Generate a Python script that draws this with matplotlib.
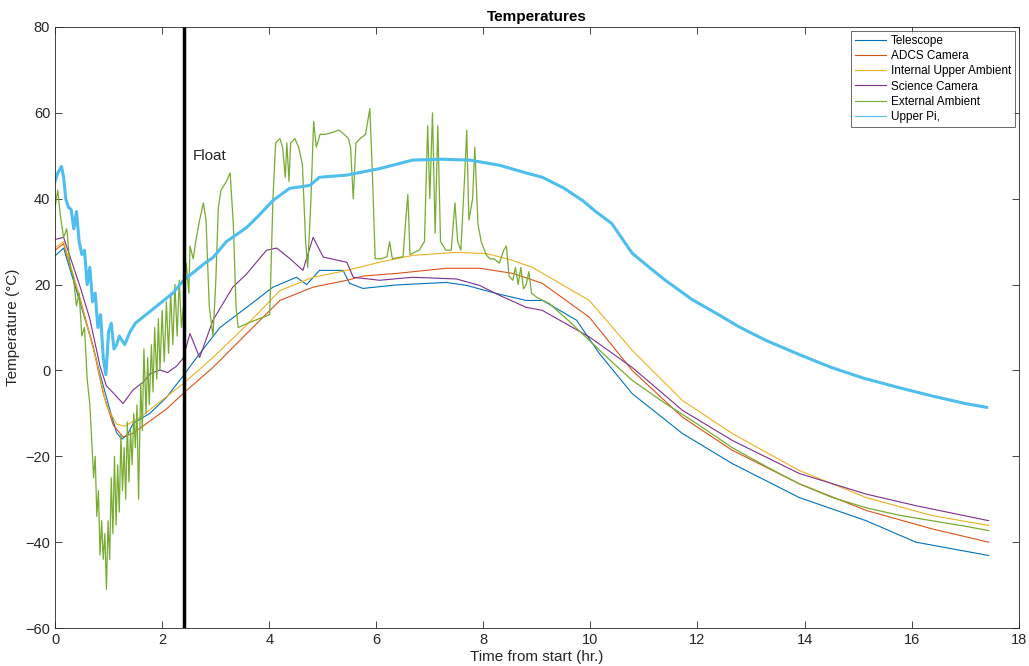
import matplotlib
matplotlib.use("Agg")
import matplotlib.pyplot as plt

plt.rcParams['font.family'] = ['Liberation Sans', 'DejaVu Sans']

# ---------------- data ----------------
tele_x = [0, 0.16, 0.47, 0.71, 0.84, 1.02, 1.15, 1.25, 1.35, 1.46, 1.77, 2.08, 2.39, 2.7, 3.08, 3.58,
          4.07, 4.51, 4.7, 4.94, 5.38, 5.5, 5.75, 6.36, 7.31, 7.69, 8.25, 8.8, 9.11, 9.74, 10.17,
          10.78, 11.72, 12.65, 13.9, 15.15, 16.08, 17.44]
tele_y = [26.7, 28.5, 15.7, 5.6, -0.8, -9, -14.5, -16, -15, -12.3, -10, -6.3, -1.3, 3.9, 10, 14.7,
          19.4, 21.7, 20, 23.3, 23.3, 20.3, 19.1, 19.9, 20.5, 19.8, 17.9, 16.3, 16.3, 11.7, 3.9,
          -5.4, -14.7, -21.7, -29.6, -35, -40, -43.1]

adcs_x = [0, 0.16, 0.47, 0.71, 0.9, 1.09, 1.27, 1.46, 1.77, 2.08, 2.39, 2.95, 3.58, 4.2, 4.82, 5.45,
          5.76, 6.38, 7.31, 7.93, 8.55, 9.1, 9.98, 10.78, 11.72, 12.65, 13.9, 15.15, 16.38, 17.44]
adcs_y = [28, 29.5, 16.6, 5.6, -5.4, -12.8, -15.5, -14.6, -11.8, -9, -5.4, 0.7, 8.6, 16.3, 19.4, 21,
          22, 22.6, 23.8, 23.8, 22.6, 20.3, 12.4, 0, -10.9, -18.6, -26.4, -32.6, -36.9, -40]

intl_x = [0, 0.16, 0.47, 0.78, 0.96, 1.15, 1.3, 1.58, 1.96, 2.39, 2.95, 3.58, 4.2, 4.82, 5.45, 6.06,
          6.68, 7.5, 8.07, 8.5, 8.92, 9.98, 10.78, 11.72, 12.65, 13.9, 15.15, 16.38, 17.44]
intl_y = [28.6, 30, 16.6, 1.9, -8.2, -12.5, -13, -11, -7.3, -3.1, 3, 10.6, 18.6, 21.7, 23.3, 25.2,
          26.8, 27.5, 27.2, 25.8, 24, 16.3, 4.7, -7, -14.7, -23.3, -29.6, -33.8, -36.1]

sci_x = [0, 0.16, 0.47, 0.65, 0.84, 0.96, 1.1, 1.27, 1.46, 1.65, 1.77, 1.96, 2.1, 2.27, 2.39, 2.52,
         2.7, 2.95, 3.32, 3.58, 3.95, 4.14, 4.39, 4.63, 4.82, 5.01, 5.45, 5.57, 6.06, 6.68, 7.5,
         7.93, 8.3, 8.8, 9.1, 9.98, 10.78, 11.72, 12.65, 13.9, 15.15, 16.08, 17.44]
sci_y = [30.5, 31, 19.4, 12, 1, -3.6, -5.4, -7.7, -4.5, -2.7, -0.8, 0.1, -0.5, 1, 2.8, 8.6,
         3, 11.7, 19.4, 22.5, 28, 28.5, 26, 23.3, 31, 26.4, 25.2, 21.7, 21, 21.7, 21.3,
         19.8, 17.5, 14.7, 14, 7.8, 0.7, -9.3, -16.3, -24, -28.8, -31.5, -35]

ext_x = [0, 0.05, 0.1, 0.16, 0.22, 0.28, 0.34, 0.4, 0.45, 0.5, 0.55, 0.6, 0.65, 0.68, 0.72, 0.75,
         0.78, 0.81, 0.84, 0.87, 0.9, 0.93, 0.96, 0.99, 1.02, 1.05, 1.08, 1.11, 1.14, 1.17, 1.2,
         1.23, 1.26, 1.29, 1.32, 1.35, 1.38, 1.41, 1.44, 1.47, 1.5, 1.53, 1.56, 1.6, 1.63, 1.66,
         1.7, 1.73, 1.76, 1.8, 1.83, 1.86, 1.9, 1.93, 1.96, 2.0, 2.04, 2.08, 2.12, 2.16, 2.2,
         2.24, 2.28, 2.32, 2.36, 2.4, 2.45, 2.5, 2.52, 2.58, 2.64, 2.7, 2.77, 2.82, 2.88, 2.95,
         3.0, 3.05, 3.1, 3.2, 3.27, 3.33, 3.38, 3.42, 3.6, 3.8, 4.01, 4.07, 4.12, 4.2, 4.25, 4.3,
         4.33, 4.37, 4.4, 4.48, 4.55, 4.62, 4.68, 4.72, 4.78, 4.83, 4.88, 4.95, 5.05, 5.2, 5.3,
         5.4, 5.48, 5.52, 5.57, 5.62, 5.7, 5.8, 5.88, 5.93, 5.98, 6.1, 6.2, 6.25, 6.3, 6.5, 6.55,
         6.59, 6.63, 6.8, 6.9, 6.96, 7.0, 7.05, 7.1, 7.15, 7.2, 7.3, 7.4, 7.47, 7.52, 7.58, 7.65,
         7.69, 7.73, 7.8, 7.84, 7.9, 7.96, 8.05, 8.12, 8.2, 8.3, 8.38, 8.43, 8.48, 8.55, 8.6, 8.65,
         8.7, 8.75, 8.8, 8.85, 8.9, 9.0, 9.23, 9.6, 9.98, 10.4, 10.78, 11.4, 12.0, 12.65, 13.3,
         13.9, 14.5, 15.15, 15.8, 16.38, 17.0, 17.44]
ext_y = [38, 42, 36, 31, 33, 24, 22, 15, 18, 8, 10, -2, -8, -15, -25, -20,
         -34, -28, -43, -35, -44, -38, -51, -35, -44, -25, -38, -20, -36, -22, -33,
         -15, -28, -18, -30, -12, -26, -14, -22, -10, -18, -8, -30, -3, -14, 5,
         -10, 3, -8, 6, -5, 10, -2, 12, 0, 14, 2, 16, 4, 18, 6,
         20, 8, 21, 10, 15, 25, 18, 29, 26, 31, 35, 39, 35, 15, 8,
         20, 38, 42, 44, 46, 34, 15, 10, 11, 12, 13, 40, 53, 54, 52, 45,
         53, 44, 53, 54, 52, 48, 30, 24, 40, 58, 52, 55, 55, 55.5, 56,
         55, 54, 52, 40, 53, 54, 55, 61, 45, 26, 26, 26.5, 30, 26, 26.5, 35,
         41, 27, 28, 30, 57, 40, 60, 32, 57, 30, 28, 28, 39, 30, 28, 45,
         56, 35, 40, 52, 34, 30, 27, 26, 26, 25, 28, 29, 22, 21, 24, 20,
         24, 19, 20, 23, 18, 17, 15.6, 11.5, 7, 2, -2.3, -7.7, -12.5, -18, -22.5,
         -26.4, -29.5, -32, -33.8, -35, -36.3, -37.3]

pi_x = [0, 0.05, 0.12, 0.16, 0.2, 0.25, 0.3, 0.35, 0.4, 0.45, 0.5, 0.55, 0.6, 0.65, 0.7, 0.75,
        0.8, 0.85, 0.9, 0.95, 1.0, 1.05, 1.1, 1.15, 1.2, 1.3, 1.4, 1.5, 1.6, 1.7, 1.8, 1.9, 2.0,
        2.1, 2.2, 2.3, 2.4, 2.6, 2.8, 2.95, 3.2, 3.58, 3.8, 4.07, 4.38, 4.76, 4.94, 5.45, 6.06,
        6.68, 7.2, 7.74, 8.3, 8.8, 9.1, 9.5, 9.85, 10.1, 10.4, 10.78, 11.1, 11.4, 11.9, 12.35,
        12.8, 13.28, 13.9, 14.5, 15.1, 15.76, 16.4, 17.0, 17.4]
pi_y = [44, 46, 47.5, 45, 40, 38, 37.5, 33, 37, 30, 27, 28, 20, 24, 16, 18,
        10, 13, 3, -1, 9, 11, 5, 6, 8, 6, 9, 11, 12, 13, 14, 15, 16,
        17, 18, 19.5, 21, 23, 25, 26.3, 30, 33.3, 36, 39.6, 42.4, 43.1, 45, 45.5, 47,
        49, 49.2, 49, 47.8, 46, 45, 42.5, 39.6, 37, 34.2, 27.3, 24, 21, 16.5, 13.3,
        10, 7, 3.7, 0.7, -1.8, -4, -6, -7.7, -8.6]

series = [
    ("Telescope", tele_x, tele_y, "#0072BD", 0.8),
    ("ADCS Camera", adcs_x, adcs_y, "#D95319", 0.8),
    ("Internal Upper Ambient", intl_x, intl_y, "#EDB120", 0.8),
    ("Science Camera", sci_x, sci_y, "#7E2F8E", 0.8),
    ("External Ambient", ext_x, ext_y, "#77AC30", 0.9),
    ("Upper Pi,", pi_x, pi_y, "#4DBEEE", 2.2),
]
float_time = 2.41

# ---------------- figure ----------------
fig = plt.figure(figsize=(10.29, 6.66), dpi=100)
ax = fig.add_axes([0.0535, 0.057, 0.9365, 0.9025])

for name, xs, ys, col, lw in series:
    ax.plot(xs, ys, color=col, lw=lw, label=name)

ax.axvline(float_time, color="black", lw=2.5)
ax.text(2.57, 50, "Float", fontsize=11, color="#262626", va="center", ha="left")

ax.set_xlim(0, 18)
ax.set_ylim(-60, 80)
ax.set_xticks(range(0, 19, 2))
ax.set_yticks(range(-60, 81, 20))
ax.tick_params(direction="in", top=True, right=True, length=5, width=0.6,
               labelsize=10.5, colors="#262626")
for s in ax.spines.values():
    s.set_color("#262626")
    s.set_linewidth(0.6)

ax.set_title("Temperatures", fontsize=11, fontweight="bold", pad=4)
ax.set_xlabel("Time from start (hr.)", fontsize=11, labelpad=2, color="#262626")
ax.set_ylabel("Temperature (\u00b0C)", fontsize=11, labelpad=4, color="#262626")

leg = ax.legend(loc="upper right", fontsize=8.5, frameon=True, fancybox=False,
                edgecolor="#262626", borderpad=0.35, labelspacing=0.28,
                handlelength=2.6, handletextpad=0.4, borderaxespad=0.3)
leg.get_frame().set_linewidth(0.6)
for h in leg.get_lines():
    h.set_linewidth(0.8)

fig.savefig("out.png", dpi=100)
